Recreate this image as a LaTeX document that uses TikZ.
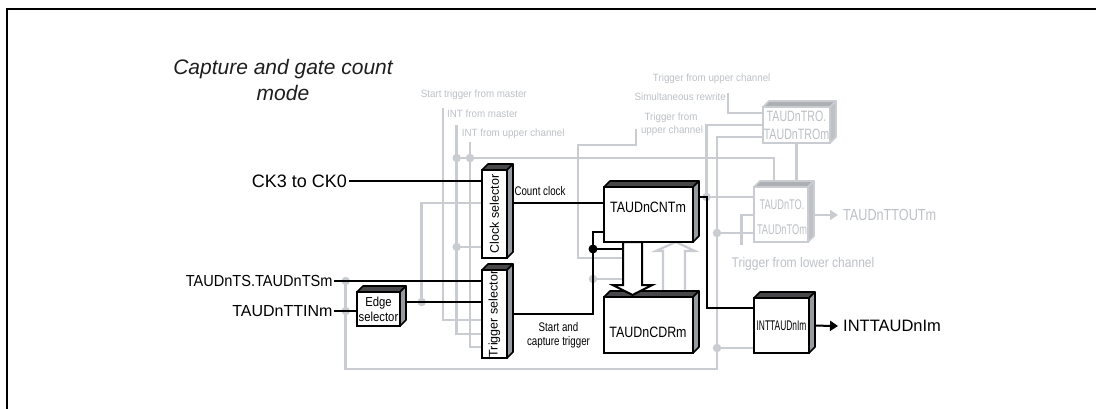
\documentclass[tikz,border=0pt]{standalone}
\usepackage{fontspec}
\setmainfont{Liberation Sans}
\usepackage{graphicx}
\usetikzlibrary{arrows.meta}
\pgfdeclarelayer{bg}
\pgfsetlayers{bg,main}
\definecolor{gl}{RGB}{201,205,210}
\definecolor{gt}{RGB}{188,192,197}
\definecolor{topdark}{RGB}{72,72,75}
\definecolor{sidedark}{RGB}{150,155,161}
\definecolor{topgray}{RGB}{172,176,181}
\definecolor{sidegray}{RGB}{190,194,199}
\definecolor{ink}{RGB}{30,30,30}
\newcommand\mysx[2]{\scalebox{#1}[1]{#2}}
\newcommand\myfs[1]{\fontsize{#1}{#1}\selectfont}
\newcommand\deepfaces[4]{%
  \filldraw[fill=#2,draw=#4,line width=1.6pt,line join=round]
    (#1.north west) -- ([shift={(6,-6)}]#1.north west) -- ([shift={(6,-6)}]#1.north east) -- (#1.north east) -- cycle;
  \filldraw[fill=#3,draw=#4,line width=1.6pt,line join=round]
    (#1.north east) -- ([shift={(6,-6)}]#1.north east) -- ([shift={(6,-6)}]#1.south east) -- (#1.south east) -- cycle;}
\begin{document}
\begin{tikzpicture}[x=1pt,y=-1pt,
  bw/.style={line width=2pt,black},
  gw/.style={line width=2.6pt,gl},
  bx/.style={draw=black,line width=2.2pt,fill=white,inner sep=0pt,outer sep=0pt},
  gbx/.style={draw=gl,line width=2.4pt,fill=white,inner sep=0pt,outer sep=0pt,text=gt},
  gdot/.style={circle,fill=gl,inner sep=0pt,minimum size=8.5pt},
  bdot/.style={circle,fill=black,inner sep=0pt,minimum size=9pt},
  glab/.style={text=gt,inner sep=0pt,font=\myfs{10.5}}]
\useasboundingbox (0,0) rectangle (1096,409);
\draw[line width=2.4pt] (7,409) -- (7,9) -- (1096,9);

% title
\node[align=center,inner sep=0pt,text=ink,font=\fontsize{21}{26}\selectfont\itshape] (title) at (283,80.3) {Capture and gate count\\mode};

% boxes
\node[bx,minimum width=25,minimum height=88] (cs) at (494.5,214) {\rotatebox{90}{\myfs{12.5}Clock selector}};
\deepfaces{cs}{topdark}{sidedark}{black}
\node[bx,minimum width=25,minimum height=88] (ts) at (494.5,314) {\rotatebox{90}{\myfs{12.5}Trigger selector}};
\deepfaces{ts}{topdark}{sidedark}{black}
\node[bx,minimum width=43,minimum height=34,align=center,font=\fontsize{13}{15}\selectfont] (es) at (378.5,309) {\mysx{0.87}{Edge}\\\mysx{0.87}{selector}};
\deepfaces{es}{topdark}{sidedark}{black}
\node[bx,minimum width=89,minimum height=55] (cnt) at (648.5,214.5) {};
\deepfaces{cnt}{topdark}{sidedark}{black}
\node[bx,minimum width=89,minimum height=56] (cdr) at (648.5,325) {};
\deepfaces{cdr}{topdark}{sidedark}{black}
\node[bx,minimum width=55,minimum height=55] (intb) at (781.5,325.5) {\myfs{14}\mysx{0.6}{INTTAUDnIm}};
\deepfaces{intb}{topdark}{sidedark}{black}
\node[gbx,minimum width=67,minimum height=36,align=center,font=\fontsize{15}{18.3}\selectfont] (trob) at (796.5,125) {\mysx{0.71}{TAUDnTRO.}\\\mysx{0.71}{TAUDnTROm}};
\deepfaces{trob}{topgray}{sidegray}{gl}
\node[gbx,minimum width=54,minimum height=55] (tob) at (781,214.5) {};
\deepfaces{tob}{topgray}{sidegray}{gl}

% box labels
\node[inner sep=0pt] (cntl) at (648,207.7) {\myfs{15}\mysx{0.83}{TAUDnCNTm}};
\node[inner sep=0pt] (cdrl) at (648,332.7) {\myfs{15}\mysx{0.83}{TAUDnCDRm}};
\node[inner sep=0pt,text=gt,align=center,font=\fontsize{14}{25}\selectfont] (tol) at (782,217.5) {\mysx{0.66}{TAUDnTO.}\\\mysx{0.66}{TAUDnTOm}};

% outer labels
\node[anchor=east,inner sep=0pt,outer sep=2pt,font=\myfs{18}] (ck) at (349,181) {CK3 to CK0};
\node[anchor=east,inner sep=0pt,outer sep=1.5pt,font=\myfs{16}] (tsl) at (334,281) {\mysx{0.91}{TAUDnTS.TAUDnTSm}};
\node[anchor=east,inner sep=0pt,outer sep=1.5pt,font=\myfs{16}] (ttin) at (334,311) {TAUDnTTINm};
\node[anchor=west,inner sep=0pt,font=\myfs{16.5}] (outl) at (843,326) {INTTAUDnIm};
\node[anchor=west,inner sep=0pt,text=gt,font=\myfs{16}] (tout) at (843,215) {\mysx{0.79}{TAUDnTTOUTm}};
\node[anchor=base west,inner sep=0pt,font=\myfs{12.5}] (ccl) at (514.3,195.5) {\mysx{0.78}{Count clock}};
\node[align=center,inner sep=0pt,font=\fontsize{12.5}{14.3}\selectfont] (sct) at (558.5,335) {\mysx{0.78}{Start and}\\\mysx{0.78}{capture trigger}};

% grey labels
\node[glab,anchor=base] (l1) at (473.8,97.7) {\mysx{0.93}{Start trigger from master}};
\node[glab,anchor=base west] (l2) at (447,117.7) {\mysx{0.93}{INT from master}};
\node[glab,anchor=base west] (l3) at (461.7,136.4) {\mysx{0.93}{INT from upper channel}};
\node[glab,anchor=base] (l4) at (711.7,81.7) {\mysx{0.93}{Trigger from upper channel}};
\node[glab,anchor=base east] (l5) at (726,101) {\mysx{0.93}{Simultaneous rewrite}};
\node[glab,anchor=base] (l6) at (671,120.4) {\mysx{0.93}{Trigger from}};
\node[glab,anchor=base] (l7) at (672,133.7) {\mysx{0.93}{upper channel}};
\node[glab,anchor=base,font=\myfs{14}] (l8) at (803,267) {\mysx{0.86}{Trigger from lower channel}};

\begin{pgfonlayer}{bg}
\node[gdot] (g1) at (345.7,281) {};
\node[gdot] (g2) at (345.7,311) {};
\node[gdot] (g3) at (421.7,302) {};
\node[gdot] (g4) at (456.7,158) {};
\node[gdot] (g5) at (470,158) {};
\node[gdot] (g6) at (456.7,247) {};
\node[gdot] (g7) at (593,279) {};
\node[gdot] (g8) at (706.5,197) {};
\node[gdot] (g9) at (717,233) {};
\node[gdot] (g10) at (717,348) {};
\coordinate (a1) at (443,108);
\coordinate (a2) at (456.7,125);
\coordinate (a3) at (470,142);
\coordinate (a4) at (636,129);
\coordinate (a5) at (728,93);
\coordinate (a6) at (741.7,245);
\coordinate (a7) at (706.5,125);
\coordinate (a8) at (717,137);

\draw[gw] (g1.center) -- (g1.center |- 0,369) -- (g10.center |- 0,369) -- (a8) -- (trob.west |- a8);
\draw[gw] (g3.center) -- (g3.center |- 0,203) -- (cs.west |- 0,203);
\draw[gw] (a1) -- (a1 |- 0,320) -- (ts.west |- 0,320);
\draw[gw] (a2) -- (a2 |- 0,334) -- (ts.west |- 0,334);
\draw[gw] (g6.center) -- (cs.west |- g6.center);
\draw[gw] (a3) -- (a3 |- 0,347) -- (ts.west |- 0,347);
\draw[gw] (g4.center) -- (774,158) -- (tob.north -| 774,0);
\draw[gw] (trob.south) -- (trob.south |- tob.north);
\draw[gw] (a4) -- (a4 |- 0,145) -- (578,145) -- (578,258) -- (630,258);
\draw[gw] (g7.center) -- (630,279);
\draw[gw] (trob.west |- a7) -- (a7) -- (g8.center) -- (tob.west |- g8.center);
\draw[gw] (g9.center) -- (tob.west |- g9.center);
\draw[gw] (a6) -- (a6 |- 0,215) -- (tob.west |- 0,215);
\draw[gw] (g10.center) -- (intb.west |- g10.center);
\draw[gw] (a5) -- (a5 |- 0,113) -- (trob.west |- 0,113);
\draw[gw,-{Triangle[length=8pt,width=10pt]}] (tob.east |- 0,215) -- ([xshift=-5pt]tout.west);
\draw[gl,line width=2.2pt,fill=white,line join=miter] (663,297) -- (663,251) -- (656,251) -- (675.7,242) -- (695,251) -- (685,251) -- (685,297);

\node[bdot] (jb) at (593,249) {};
\draw[bw] (ck.east) -- (cs.west |- ck.east);
\draw[bw] (cs.east |- 0,203) -- (cnt.west |- 0,203);
\draw[bw] (tsl.east) -- (ts.west |- tsl.east);
\draw[bw] (ttin.east) -- (es.west |- ttin.east);
\draw[bw] (es.east |- 0,302) -- (ts.west |- 0,302);
\draw[bw] (ts.east |- 0,314) -- (jb.center |- 0,314) -- (jb.center |- 0,232) -- (cnt.west |- 0,232);
\draw[bw] (jb.center) -- (630,249);
\draw[bw] (cnt.east |- 0,197) -- (g8.center) -- (g8.center |- 0,308) -- (intb.west |- 0,308);
\draw[bw,-{Triangle[length=8pt,width=10pt]}] (intb.east) -- ([xshift=-5pt]outl.west);
\end{pgfonlayer}

% transfer arrow
\draw[line width=2pt,fill=white,line join=miter] (623,242) -- (623,285) -- (612.7,285) -- (632.5,295) -- (652.3,285) -- (642,285) -- (642,242) -- cycle;
\end{tikzpicture}
\end{document}
